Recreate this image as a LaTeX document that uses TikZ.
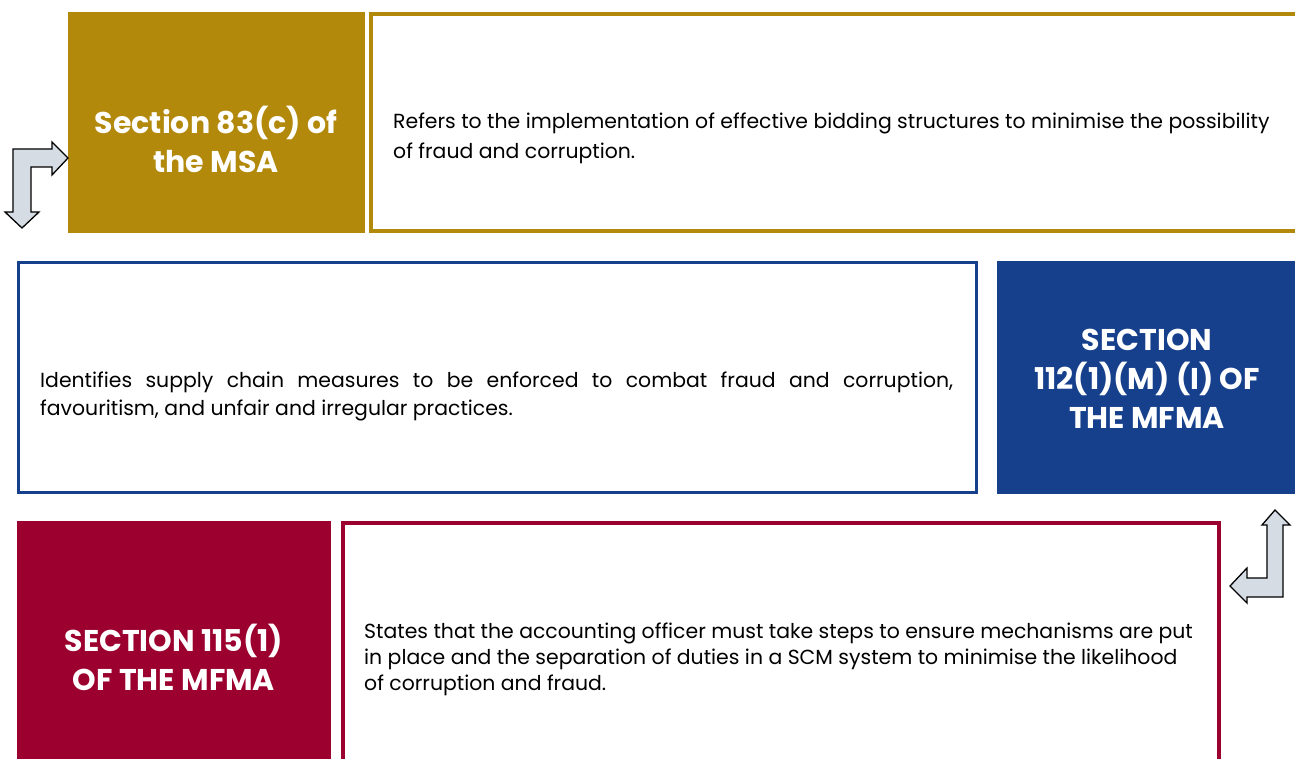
\documentclass[tikz,border=0pt]{standalone}
\usepackage{fontspec}
\setmainfont{Poppins}
\definecolor{gold}{HTML}{B3890C}
\definecolor{navy}{HTML}{16408C}
\definecolor{crimson}{HTML}{9C002F}
\definecolor{arrowfill}{HTML}{D6DCE4}
\begin{document}
\begin{tikzpicture}[x=1pt,y=-1pt,
  titlebox/.style={fill=#1, draw=none, inner sep=0pt, anchor=north west},
  titletext/.style={inner sep=0pt, text=white, align=center,
     font=\fontsize{30}{39}\selectfont\bfseries},
  outlinebox/.style={draw=#1, line width=4pt, fill=white},
  bodytext/.style={anchor=west, inner sep=0pt, font=\fontsize{20.4}{#1}\selectfont}]
\tikzset{bentarrow/.style={fill=arrowfill, draw=black, line width=1.3pt, line join=miter}}
\useasboundingbox (0,0) rectangle (1295,759);
% row 1
\node[titlebox=gold, minimum width=297pt, minimum height=221pt] (t1) at (68,12) {};
\node[titletext] (t1txt) at (216,139) {Section 83(c) of\\the MSA};
\draw[outlinebox=gold] (371,14) rectangle (1300,231);
\node[bodytext=30, align=left] (b1) at (393,138)
  {Refers to the implementation of effective bidding structures to minimise the possibility\\of fraud and corruption.};
% row 2
\draw[outlinebox=navy, line width=3pt] (18.5,262.5) rectangle (976.5,492.5);
\node[bodytext=28, text width=913pt, align=justify] (b2) at (40,396)
  {Identifies supply chain measures to be enforced to combat fraud and corruption,\linebreak favouritism, and unfair and irregular practices.};
\node[titlebox=navy, minimum width=300pt, minimum height=233pt] (t2) at (997,261) {};
\node[titletext] (t2txt) at (1147,379) {SECTION\\112(1)(M) (I) OF\\THE MFMA};
% row 3
\node[titlebox=crimson, minimum width=314pt, minimum height=240pt] (t3) at (17,521) {};
\node[titletext] (t3txt) at (174,657) {SECTION 115(1)\\OF THE MFMA};
\draw[outlinebox=crimson] (343,523) rectangle (1219,766);
\node[bodytext=26, align=left] (b3) at (364,659)
  {States that the accounting officer must take steps to ensure mechanisms are put\\in place and the separation of duties in a SCM system to minimise the likelihood\\of corruption and fraud.};
% arrows
\draw[bentarrow] (68,158) -- (52,142) -- (52,149) -- (13,149) -- (13,212) -- (5,212) -- (22,228)
  -- (39,212) -- (31,212) -- (31,167) -- (52,167) -- (52,175) -- cycle;
\draw[bentarrow] (1275,510) -- (1290,525) -- (1283,525) -- (1283,597) -- (1247,597) -- (1247,603)
  -- (1230,586) -- (1247,568) -- (1247,578) -- (1267,578) -- (1267,525) -- (1262,525) -- cycle;
\end{tikzpicture}
\end{document}
